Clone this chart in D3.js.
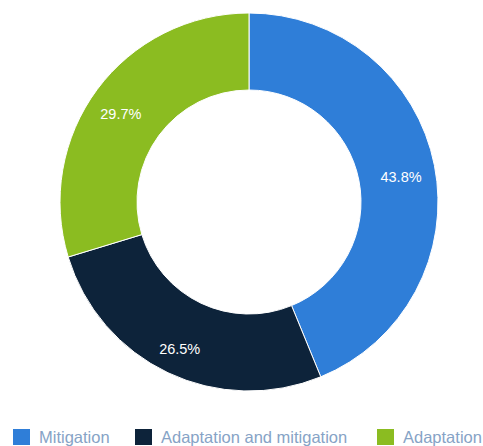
<!DOCTYPE html>
<html>
<head>
<meta charset="utf-8">
<script src="https://cdn.jsdelivr.net/npm/d3@7"></script>
<style>
  body { margin: 0; background: #fff; }
  svg { display: block; font-family: "Liberation Sans", Arial, sans-serif; }
</style>
</head>
<body>
<svg id="chart" width="483" height="446"></svg>
<script>
// --- Données ---
const categories = ["Mitigation", "Adaptation and mitigation", "Adaptation"];
const values = [43.8, 26.5, 29.7];
const colors = ["#2f7ed8", "#0d233a", "#8bbc21"];

const svg = d3.select("#chart");
const cx = 249, cy = 202;
const outerR = 189, innerR = 112;

const data = categories.map((c, i) => ({ name: c, value: values[i], color: colors[i] }));

const pie = d3.pie().value(d => d.value).sort(null);
const arc = d3.arc().innerRadius(innerR).outerRadius(outerR);
const labelArc = d3.arc().innerRadius(157).outerRadius(157);

const g = svg.append("g").attr("transform", `translate(${cx},${cy})`);

g.selectAll("path")
  .data(pie(data))
  .join("path")
  .attr("d", arc)
  .attr("fill", d => d.data.color)
  .attr("stroke", "#ffffff")
  .attr("stroke-width", 1);

// étiquettes un peu plus bas que le centroïde, comme dans l'original
g.selectAll("text")
  .data(pie(data))
  .join("text")
  .attr("transform", d => {
    const [x, y] = labelArc.centroid(d);
    return `translate(${x - 2},${y + 5})`;
  })
  .attr("text-anchor", "middle")
  .attr("dy", "0.35em")
  .attr("fill", "#ffffff")
  .style("font-size", "14.5px")
  .text(d => d.data.value.toFixed(1) + "%");

// --- Légende ---
const legendX = [13, 135, 377];
const legend = svg.append("g");
const item = legend.selectAll("g")
  .data(data)
  .join("g")
  .attr("transform", (d, i) => `translate(${legendX[i]},429)`);

item.append("rect")
  .attr("width", 17).attr("height", 16)
  .attr("fill", d => d.color);

item.append("text")
  .attr("x", 26).attr("y", 14)
  .attr("fill", "#86a3c6")
  .style("font-size", "16.5px")
  .text(d => d.name);
</script>
</body>
</html>
